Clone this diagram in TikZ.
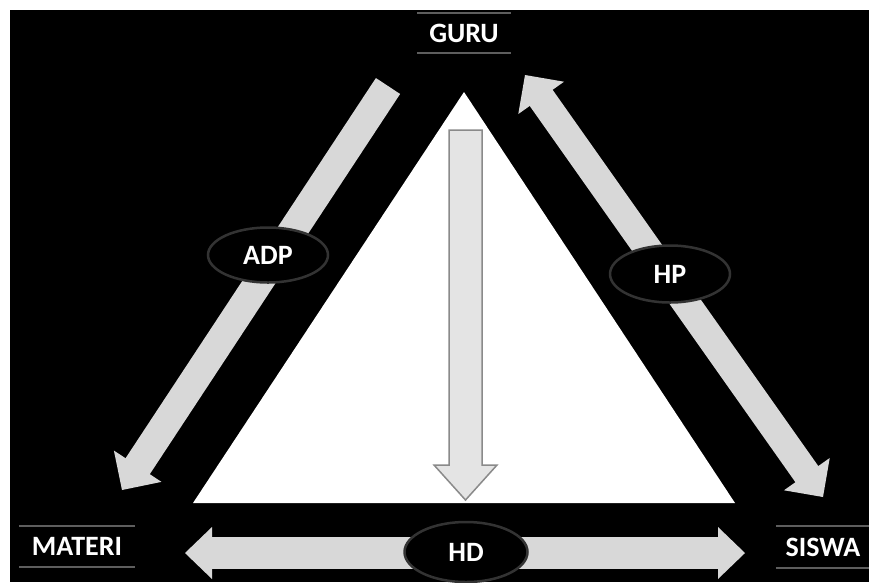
\documentclass[tikz,border=0pt]{standalone}
\usepackage{fontspec}
\setmainfont{Carlito}
\usetikzlibrary{calc,shapes.geometric}

\definecolor{arrowgray}{HTML}{D8D8D8}
\definecolor{downfill}{HTML}{E4E4E4}
\definecolor{downline}{HTML}{8A8A8A}
\definecolor{rulegray}{HTML}{5E5E5E}
\definecolor{ovalrim}{HTML}{333333}

\tikzset{
  role/.style={text=white, inner sep=0pt, font=\bfseries\fontsize{28}{28}\selectfont},
  banner/.style={draw=rulegray, line width=2.5pt},
  oval/.style={ellipse, fill=black, draw=ovalrim, line width=2.5pt, inner sep=0pt,
    text=white, font=\bfseries\fontsize{28}{28}\selectfont},
  fat/.style={draw=arrowgray, line width=#1},
  downarrow/.style={fill=downfill, draw=downline, line width=1.5pt, line join=miter}
}

\begin{document}
\begin{tikzpicture}[x=1pt,y=-1pt]
    \useasboundingbox (0,0) rectangle (869,582);
    \fill[white] (0,0) rectangle (869,582);
    \fill[black] (10,10) rectangle (869,582);

    % the white triangle
    \fill[white] (464,92) -- (735,503) -- (193,503) -- cycle;

    % corner labels
    \node[role, minimum width=94pt, minimum height=40pt] (guru) at (464,33) {GURU};
    \node[role, minimum width=115pt, minimum height=41pt] (materi) at (77,546.5) {MATERI};
    \node[role, minimum width=94pt, minimum height=42pt] (siswa) at (823,547) {SISWA};
    \foreach \n in {guru,materi,siswa} {
        \draw[banner] (\n.north west) -- (\n.north east);
        \draw[banner] (\n.south west) -- (\n.south east);
    }

    % ends of the wide arrows
    \coordinate (adp-top)  at (388,86);
    \coordinate (adp-tip)  at (122,490);
    \coordinate (hp-top)   at (525,75);
    \coordinate (hp-tip)   at (823,497);
    \coordinate (hd-left)  at (185,553);
    \coordinate (hd-right) at (745,553);

    \draw[fat=29pt] (adp-top) -- ($(adp-tip)!27pt!(adp-top)$);
    \draw[fat=28pt] ($(hp-top)!26pt!(hp-tip)$) -- ($(hp-tip)!26pt!(hp-top)$);
    \draw[fat=32pt] ($(hd-left)!26pt!(hd-right)$) -- ($(hd-right)!26pt!(hd-left)$);

    % arrow heads
    \foreach \t/\b/\h/\w in {adp-tip/adp-top/28.5pt/28.5pt,
                             hp-tip/hp-top/28pt/28pt, hp-top/hp-tip/28pt/28pt,
                             hd-left/hd-right/27pt/26pt, hd-right/hd-left/27pt/26pt} {
        \coordinate (back) at ($(\t)!\h!(\b)$);
        \fill[arrowgray] (\t) -- ($(back)!\w!90:(\t)$) -- ($(back)!\w!-90:(\t)$) -- cycle;
    }

    % the arrow down the middle
    \coordinate (down-top) at (465.5,130);
    \coordinate (down-tip) at (465.5,500);
    \filldraw[downarrow] ($(down-top)+(-16.5,0)$) -- ($(down-top)+(16.5,0)$)
        -- ($(down-tip)+(16.5,-35)$) -- ($(down-tip)+(31.5,-35)$) -- (down-tip)
        -- ($(down-tip)+(-31.5,-35)$) -- ($(down-tip)+(-16.5,-35)$) -- cycle;

    % labels on the arrows
    \node[oval, minimum width=120pt, minimum height=55pt] (adp) at (268,255) {ADP};
    \node[oval, minimum width=120pt, minimum height=57pt] (hp) at (670,274) {HP};
    \node[oval, minimum width=123pt, minimum height=60pt] (hd) at (466,552) {HD};
\end{tikzpicture}
\end{document}
